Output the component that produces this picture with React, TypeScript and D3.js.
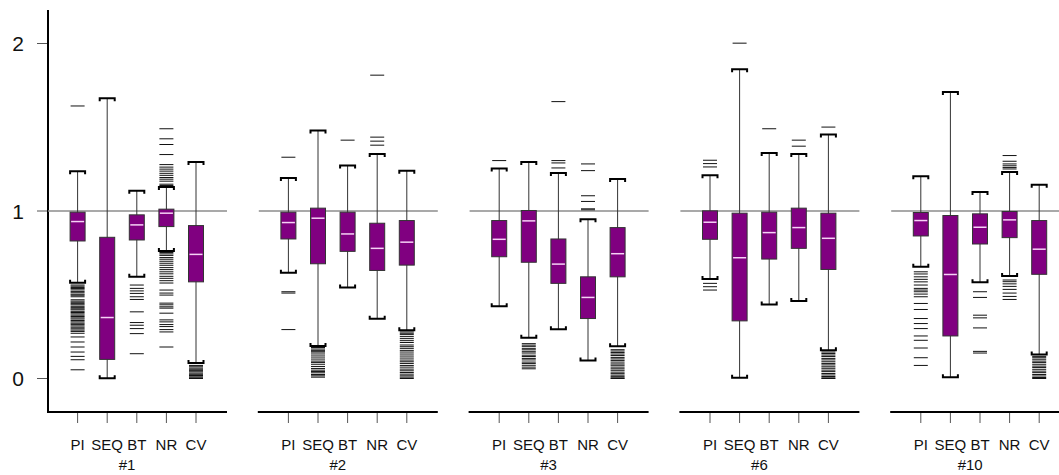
import React from 'react'
import * as d3 from 'd3'

const panels = ['#1', '#2', '#3', '#6', '#10']
const methods = ['PI', 'SEQ', 'BT', 'NR', 'CV']
const yTicks = [0, 1, 2]

// per panel, per method: [lower whisker, q1, median, q3, upper whisker]
const boxStats = [
  [[0.571, 0.821, 0.937, 0.993, 1.237], [0.002, 0.114, 0.364, 0.843, 1.673], [0.607, 0.827, 0.917, 0.977, 1.121], [0.761, 0.907, 0.987, 1.011, 1.143], [0.092, 0.577, 0.741, 0.913, 1.293]],
  [[0.631, 0.833, 0.931, 0.993, 1.197], [0.194, 0.685, 0.957, 1.017, 1.481], [0.544, 0.759, 0.863, 0.993, 1.271], [0.356, 0.645, 0.777, 0.927, 1.341], [0.288, 0.677, 0.814, 0.943, 1.241]],
  [[0.432, 0.727, 0.831, 0.943, 1.253], [0.244, 0.694, 0.941, 1.003, 1.293], [0.294, 0.568, 0.683, 0.833, 1.227], [0.108, 0.358, 0.484, 0.607, 0.951], [0.192, 0.607, 0.745, 0.901, 1.191]],
  [[0.594, 0.831, 0.933, 1.001, 1.213], [0.004, 0.344, 0.721, 0.987, 1.847], [0.442, 0.713, 0.871, 0.993, 1.347], [0.462, 0.777, 0.901, 1.017, 1.341], [0.168, 0.651, 0.837, 0.987, 1.457]],
  [[0.667, 0.851, 0.943, 0.991, 1.207], [0.008, 0.254, 0.621, 0.973, 1.711], [0.574, 0.803, 0.903, 0.983, 1.113], [0.612, 0.841, 0.947, 0.997, 1.233], [0.144, 0.622, 0.772, 0.943, 1.157]],
]

const outliers1 = [
  [1.627, 0.558, 0.551, 0.543, 0.537, 0.529, 0.52, 0.512, 0.503, 0.497, 0.488, 0.47, 0.462, 0.455, 0.447, 0.44, 0.431, 0.423, 0.416, 0.41, 0.401, 0.394, 0.386, 0.378, 0.37, 0.362, 0.355, 0.346, 0.338, 0.33, 0.323, 0.314, 0.306, 0.297, 0.289, 0.281, 0.27, 0.248, 0.218, 0.188, 0.158, 0.132, 0.112, 0.052],
  [],
  [0.558, 0.538, 0.523, 0.508, 0.488, 0.472, 0.398, 0.334, 0.318, 0.298, 0.268, 0.148],
  [1.491, 1.431, 1.397, 1.337, 1.277, 1.262, 1.25, 1.238, 1.225, 1.213, 1.2, 1.19, 1.178, 1.16, 1.152,
    0.752, 0.744, 0.735, 0.722, 0.712, 0.7, 0.688, 0.676, 0.662, 0.65, 0.637, 0.625, 0.61, 0.598, 0.584, 0.57, 0.528, 0.51, 0.498, 0.45, 0.44, 0.428, 0.42, 0.39, 0.35, 0.338, 0.322, 0.31, 0.292, 0.278, 0.188],
  [0.078, 0.07, 0.062, 0.055, 0.047, 0.04, 0.032, 0.025, 0.018, 0.01, 0.004, 0.0],
]
const outliers2 = [
  [1.321, 0.518, 0.51, 0.292],
  [0.185, 0.176, 0.168, 0.16, 0.152, 0.14, 0.128, 0.116, 0.104, 0.096, 0.085, 0.072, 0.06, 0.05, 0.042, 0.034, 0.024, 0.016, 0.008],
  [1.423],
  [1.393, 1.417, 1.441, 1.811],
  [0.278, 0.27, 0.262, 0.25, 0.238, 0.226, 0.215, 0.2, 0.19, 0.18, 0.168, 0.158, 0.146, 0.134, 0.122, 0.11, 0.1, 0.09, 0.078, 0.068, 0.056, 0.046, 0.036, 0.026, 0.016, 0.008, 0.0],
]
const outliers3 = [
  [1.301],
  [0.208, 0.199, 0.19, 0.178, 0.171, 0.16, 0.152, 0.139, 0.131, 0.12, 0.111, 0.098, 0.09, 0.079, 0.068, 0.058],
  [1.257, 1.287, 1.301, 1.653],
  [1.007, 1.013, 1.057, 1.091, 1.241, 1.281],
  [0.172, 0.164, 0.155, 0.146, 0.137, 0.126, 0.117, 0.108, 0.098, 0.087, 0.079, 0.068, 0.058, 0.049, 0.038, 0.029, 0.02, 0.011, 0.004, 0.0],
]
const outliers6 = [
  [1.263, 1.283, 1.303, 0.568, 0.548, 0.528],
  [2.002],
  [1.491],
  [1.387, 1.423],
  [1.501, 0.158, 0.149, 0.14, 0.131, 0.12, 0.111, 0.1, 0.09, 0.081, 0.07, 0.061, 0.05, 0.041, 0.03, 0.021, 0.012, 0.004, 0.0],
]
const outliers10 = [
  [0.637, 0.624, 0.607, 0.592, 0.577, 0.558, 0.538, 0.528, 0.518, 0.504, 0.488, 0.448, 0.412, 0.358, 0.328, 0.298, 0.254, 0.228, 0.182, 0.124, 0.078],
  [],
  [0.518, 0.484, 0.378, 0.362, 0.302, 0.162, 0.152],
  [1.331, 1.297, 1.281, 1.27, 1.26, 1.251, 0.588, 0.578, 0.565, 0.55, 0.532, 0.51, 0.49, 0.472],
  [0.132, 0.124, 0.115, 0.104, 0.096, 0.085, 0.074, 0.066, 0.055, 0.044, 0.035, 0.024, 0.015, 0.006, 0.0],
]
const outliers = [outliers1, outliers2, outliers3, outliers6, outliers10]

const BoxPanels = () => {
  const svgRef = React.useRef(null)
  const width = 1059
  const height = 475

  React.useEffect(() => {
    const svg = d3.select(svgRef.current)
    svg.selectAll('*').remove()

    const font = '"Liberation Sans", Arial, sans-serif'
    const narrow = '"Liberation Sans Narrow", "Arial Narrow", "Liberation Sans", Arial, sans-serif'
    const y = d3.scaleLinear().domain([-0.2, 2.2]).range([412, 10])
    const panelX = d3.scaleLinear().domain([0, 1]).range([48, 258.8])
    const catX = d3.scaleLinear().domain([0, 6]).range([0, 177.6])
    const boxW = 15
    const capH = 3

    // y axis
    svg.append('line')
      .attr('x1', 48).attr('x2', 48)
      .attr('y1', 10).attr('y2', 413)
      .attr('stroke', '#000').attr('stroke-width', 2)
    const yt = svg.append('g')
    yt.selectAll('line').data(yTicks).join('line')
      .attr('x1', 37).attr('x2', 47)
      .attr('y1', (d) => y(d)).attr('y2', (d) => y(d))
      .attr('stroke', '#555').attr('stroke-width', 1)
    yt.selectAll('text').data(yTicks).join('text')
      .attr('x', 24).attr('y', (d) => y(d))
      .attr('dy', '0.37em')
      .attr('text-anchor', 'end')
      .style('font', `21px ${font}`)
      .attr('fill', '#111')
      .text((d) => d)

    panels.forEach((pName, pi) => {
      const x0 = panelX(pi)
      const g = svg.append('g')

      // reference line at 1
      g.append('line')
        .attr('x1', x0).attr('x2', x0 + 179)
        .attr('y1', y(1)).attr('y2', y(1))
        .attr('stroke', '#8c8c8c').attr('stroke-width', 1.6)

      // bottom axis
      g.append('line')
        .attr('x1', x0 - 1).attr('x2', x0 + 179)
        .attr('y1', 412).attr('y2', 412)
        .attr('stroke', '#000').attr('stroke-width', 2)
      g.selectAll('.tick').data(methods).join('line')
        .attr('x1', (d, i) => x0 + catX(i + 1)).attr('x2', (d, i) => x0 + catX(i + 1))
        .attr('y1', 413).attr('y2', 423)
        .attr('stroke', '#555').attr('stroke-width', 1)
      g.selectAll('.lab').data(methods).join('text')
        .attr('x', (d, i) => x0 + catX(i + 1)).attr('y', 450)
        .attr('text-anchor', 'middle')
        .style('font', `15px ${narrow}`)
        .attr('fill', '#111')
        .text((d) => d)
      g.append('text')
        .attr('x', x0 + 79).attr('y', 470)
        .attr('text-anchor', 'middle')
        .style('font', `15px ${narrow}`)
        .attr('fill', '#111')
        .text(pName)

      methods.forEach((m, mi) => {
        const cx = x0 + catX(mi + 1)
        const [lo, q1, med, q3, hi] = boxStats[pi][mi]
        const b = g.append('g')

        b.append('line')
          .attr('x1', cx).attr('x2', cx)
          .attr('y1', y(lo)).attr('y2', y(hi))
          .attr('stroke', '#333').attr('stroke-width', 1)
        b.append('path')
          .attr('d', `M${cx - boxW / 2},${y(hi) + capH}V${y(hi)}H${cx + boxW / 2}V${y(hi) + capH}`)
          .attr('fill', 'none').attr('stroke', '#000').attr('stroke-width', 2)
        b.append('path')
          .attr('d', `M${cx - boxW / 2},${y(lo) - capH}V${y(lo)}H${cx + boxW / 2}V${y(lo) - capH}`)
          .attr('fill', 'none').attr('stroke', '#000').attr('stroke-width', 2)

        b.selectAll('.out').data(outliers[pi][mi]).join('line')
          .attr('x1', cx - 7).attr('x2', cx + 7)
          .attr('y1', (d) => y(d)).attr('y2', (d) => y(d))
          .attr('stroke', '#111').attr('stroke-width', 1)

        b.append('rect')
          .attr('x', cx - boxW / 2).attr('width', boxW)
          .attr('y', y(q3)).attr('height', y(q1) - y(q3))
          .attr('fill', '#800080').attr('stroke', '#333').attr('stroke-width', 1)
        b.append('line')
          .attr('x1', cx - boxW / 2 + 1).attr('x2', cx + boxW / 2 - 1)
          .attr('y1', y(med)).attr('y2', y(med))
          .attr('stroke', '#f6d2f6').attr('stroke-width', 1.5)
      })
    })
  }, [])

  return <svg ref={svgRef} width={width} height={height} style={{ position: 'absolute', left: 0, top: 0, background: '#fff' }} />
}

export default function App() {
  return <BoxPanels />
}
